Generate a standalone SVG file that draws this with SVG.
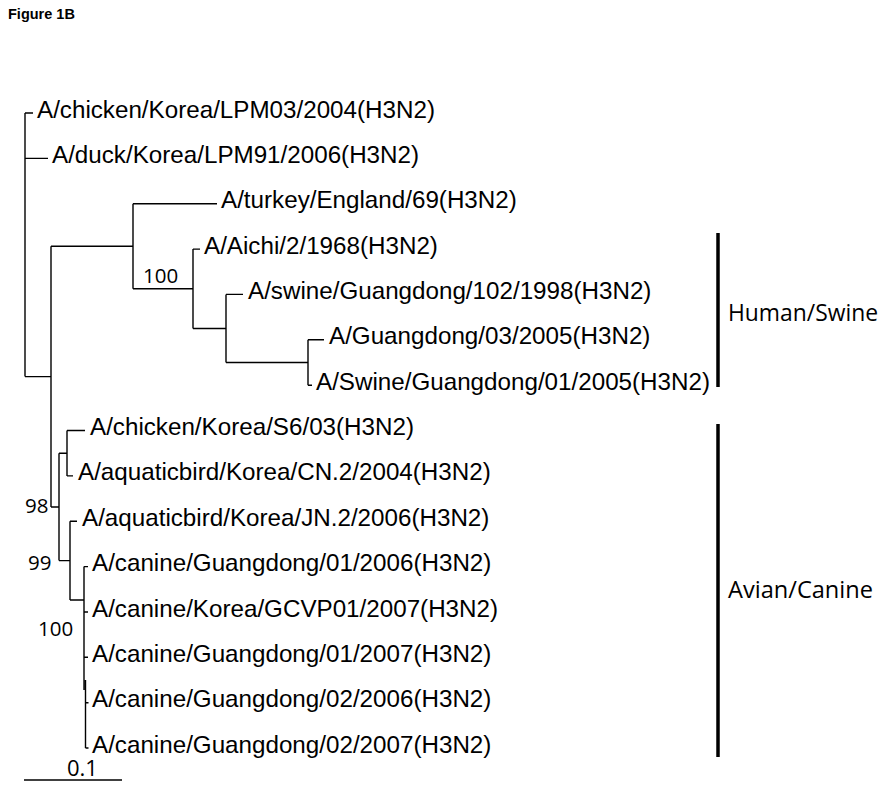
<svg xmlns="http://www.w3.org/2000/svg" width="885" height="790" viewBox="0 0 885 790">
<style>
.leaf{font-family:"Liberation Sans",Arial,sans-serif;font-size:24.2px;fill:#000}
.boot{font-family:"Open Sans","Noto Sans",sans-serif;font-size:20.5px;fill:#000}
.grp{font-family:"Open Sans","Noto Sans",sans-serif;font-size:23px;fill:#000}
.title{font-family:"Liberation Sans",Arial,sans-serif;font-size:14.5px;font-weight:bold;fill:#000}
.br{fill:none;stroke:#000;stroke-width:1.4}
.bar{fill:none;stroke:#000;stroke-width:3.5}
</style>
<rect width="885" height="790" fill="#fff"/>
<text class="title" x="8" y="19">Figure 1B</text>
<g id="connectors">
<path class="br" d="M25,113V376.6 M25,113H33 M25,158.4H48 M25,376.6H51
M51,246.2V507 M51,246.2H133 M133,203.7V288.8 M133,203.7H217 M133,288.8H193
M193,249.1V328.5 M193,249.1H200 M193,328.5H226 M226,294.4V362.5 M226,294.4H243
M226,362.5H308 M308,339.8V385.2 M308,339.8H324 M308,385.2H312
M51,507H59 M59,453.2V560.6 M59,453.2H67 M67,430.5V475.9 M67,430.5H85 M67,475.9H73
M59,560.6H70 M70,521.2V600 M70,521.2H77 M70,600H84
M84,566.6V690 M84,566.6H88 M84,612H88 M84,657.3H88
M85.5,680V748 M85.5,702.7H88.5 M85.5,748H88.5"/>
<path class="br" d="M24,780H122"/>
</g>
<g id="leaf0"><text class="leaf" x="37" y="117.5">A/chicken/Korea/LPM03/2004(H3N2)</text></g>
<g id="leaf1"><text class="leaf" x="52" y="162.9">A/duck/Korea/LPM91/2006(H3N2)</text></g>
<g id="leaf2"><text class="leaf" x="221" y="208.2">A/turkey/England/69(H3N2)</text></g>
<g id="leaf3"><text class="leaf" x="204" y="253.6">A/Aichi/2/1968(H3N2)</text></g>
<g id="leaf4"><text class="leaf" x="248" y="298.9">A/swine/Guangdong/102/1998(H3N2)</text></g>
<g id="leaf5"><text class="leaf" x="329" y="344.3">A/Guangdong/03/2005(H3N2)</text></g>
<g id="leaf6"><text class="leaf" x="316" y="389.7">A/Swine/Guangdong/01/2005(H3N2)</text></g>
<g id="leaf7"><text class="leaf" x="90" y="435">A/chicken/Korea/S6/03(H3N2)</text></g>
<g id="leaf8"><text class="leaf" x="78" y="480.4">A/aquaticbird/Korea/CN.2/2004(H3N2)</text></g>
<g id="leaf9"><text class="leaf" x="82" y="525.7">A/aquaticbird/Korea/JN.2/2006(H3N2)</text></g>
<g id="leaf10"><text class="leaf" x="92" y="571.1">A/canine/Guangdong/01/2006(H3N2)</text></g>
<g id="leaf11"><text class="leaf" x="92" y="616.5">A/canine/Korea/GCVP01/2007(H3N2)</text></g>
<g id="leaf12"><text class="leaf" x="92" y="661.8">A/canine/Guangdong/01/2007(H3N2)</text></g>
<g id="leaf13"><text class="leaf" x="92" y="707.2">A/canine/Guangdong/02/2006(H3N2)</text></g>
<g id="leaf14"><text class="leaf" x="92" y="752.5">A/canine/Guangdong/02/2007(H3N2)</text></g>
<g id="bootstraps">
<text class="boot" x="143" y="283">100</text>
<text class="boot" x="25" y="513">98</text>
<text class="boot" x="28" y="570">99</text>
<text class="boot" x="38" y="636">100</text>
<text class="boot" x="67" y="776" style="font-size:22px">0.1</text>
</g>
<g id="clade-human-swine">
<path class="bar" d="M718,233V387"/>
<text class="grp" x="728" y="321" textLength="150" lengthAdjust="spacingAndGlyphs">Human/Swine</text>
</g>
<g id="clade-avian-canine">
<path class="bar" d="M718,424V757"/>
<text class="grp" x="728" y="598" textLength="145" lengthAdjust="spacingAndGlyphs">Avian/Canine</text>
</g>
</svg>
